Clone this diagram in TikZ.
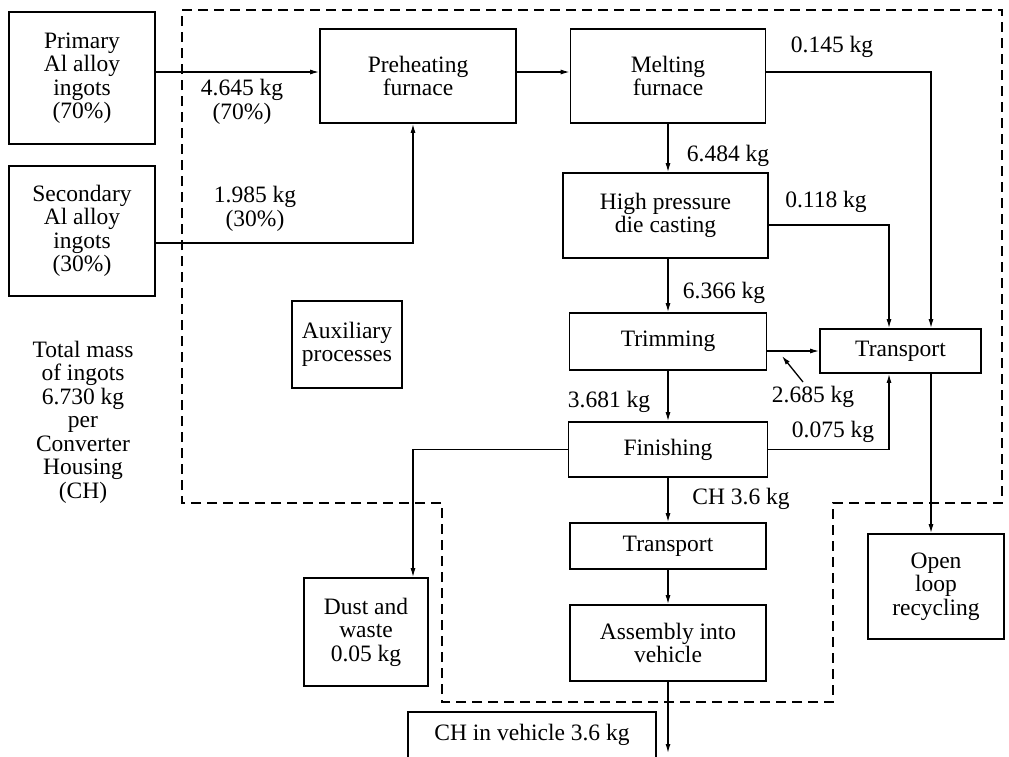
\documentclass[tikz,border=0pt]{standalone}
\usepackage{fontspec}
\setmainfont{Liberation Serif}
\usetikzlibrary{arrows.meta,calc}
\begin{document}
\begin{tikzpicture}[x=1pt,y=-1pt,
  txt/.style={font=\fontsize{23.5}{23.5}\selectfont},
  box/.style={txt,draw,line width=1.7pt,inner sep=0pt,align=center},
  lbl/.style={txt,inner sep=0pt,align=center},
  ln/.style={line width=1.3pt},
  arr/.style={line width=1.3pt,-{Latex[length=9pt,width=5pt]}},
  bound/.style={line width=1.8pt,dash pattern=on 10pt off 6pt}]
\useasboundingbox (0,0) rectangle (1009,756);
\clip (0,0) rectangle (1009,756);
% boundary
\draw[bound] (182,10) -- (1002,10) -- (1002,503) -- (833,503) -- (833,702) -- (442,702) -- (442,503) -- (182,503) -- cycle;
% boxes
\node[box,minimum width=146pt,minimum height=132pt] (prim) at (82,78) {Primary\\Al alloy\\ingots\\(70\%)};
\node[box,minimum width=146pt,minimum height=130pt] (sec) at (82,231) {Secondary\\Al alloy\\ingots\\(30\%)};
\node[box,minimum width=196pt,minimum height=94pt] (pre) at (418,76) {Preheating\\furnace};
\node[box,minimum width=195pt,minimum height=94pt] (melt) at (668,76) {Melting\\furnace};
\node[box,minimum width=205pt,minimum height=85pt] (hpdc) at (665.5,215.5) {High pressure\\die casting};
\node[box,minimum width=197pt,minimum height=57pt] (trim) at (668,341.5) {Trimming};
\node[box,minimum width=161pt,minimum height=44pt] (tr) at (900.5,351) {Transport};
\node[box,minimum width=199pt,minimum height=55pt] (fin) at (668,449.5) {Finishing};
\node[box,minimum width=196pt,minimum height=46pt] (tr2) at (668,546) {Transport};
\node[box,minimum width=196pt,minimum height=76pt] (asm) at (668,643) {Assembly into\\vehicle};
\node[box,minimum width=248pt,minimum height=46pt] (veh) at (532,735) {CH in vehicle 3.6 kg};
\node[box,minimum width=124pt,minimum height=108pt] (dust) at (366,632) {Dust and\\waste\\0.05 kg};
\node[box,minimum width=136pt,minimum height=105pt] (ol) at (936,586.5) {Open\\loop\\recycling};
\node[box,minimum width=110pt,minimum height=87pt] (aux) at (347,344.5) {Auxiliary\\processes};
\node[lbl] (total) at (83,422) {Total mass\\of ingots\\6.730 kg\\per\\Converter\\Housing\\(CH)};
% labels
\node[lbl] (l1) at (242,102) {4.645 kg\\(70\%)};
\node[lbl] (l2) at (255,209) {1.985 kg\\(30\%)};
\node[lbl] (l3) at (832,47) {0.145 kg};
\node[lbl] (l4) at (728,156) {6.484 kg};
\node[lbl] (l5) at (826,202) {0.118 kg};
\node[lbl] (l6) at (724,293) {6.366 kg};
\node[lbl] (l7) at (609,402) {3.681 kg};
\node[lbl] (l8) at (813,397) {2.685 kg};
\node[lbl] (l9) at (833,432) {0.075 kg};
\node[lbl] (l10) at (741,499) {CH 3.6 kg};
% connectors
\draw[arr] ([yshift=6pt]prim.east) -- ([yshift=4pt]pre.west);
\draw[arr] ([yshift=4pt]pre.east) -- ([yshift=4pt]melt.west);
\draw[arr] ([yshift=-12pt]sec.east) -| ([xshift=-5pt]pre.south);
\draw[arr] ([yshift=4pt]melt.east) -| ([xshift=30.5pt]tr.north);
\draw[arr] ([yshift=-9.5pt]hpdc.east) -| ([xshift=-11.5pt]tr.north);
\draw[arr] (melt.south) -- (melt.south |- hpdc.north);
\draw[arr] (trim.north |- hpdc.south) -- (trim.north);
\draw[arr] (trim.south) -- (fin.north);
\draw[arr] (trim.east |- tr.west) -- (tr.west);
\coordinate (k2s) at (803,382);
\coordinate (k2e) at (782,356);
\draw[arr] (k2s) -- (k2e);
\draw[arr] (fin.east) -| ([xshift=-11.5pt]tr.south);
\draw[arr] (fin.west) -| ([xshift=47pt]dust.north);
\draw[arr] (fin.south) -- (tr2.north);
\draw[arr] (tr2.south) -- (asm.north);
\coordinate (out) at (668,753);
\draw[arr] (asm.south) -- (out);
\draw[arr] ([xshift=30.5pt]tr.south) -- ([xshift=30.5pt]tr.south |- ol.north);
\end{tikzpicture}
\end{document}
